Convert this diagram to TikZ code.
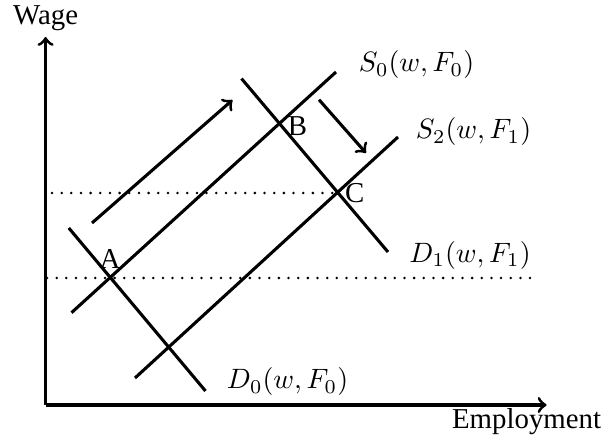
\documentclass[tikz,border=0pt]{standalone}
\usepackage{fontspec}
\setmainfont{Liberation Serif}
\tikzset{
	courbe/.style={line width=1.1pt},
	pointille/.style={line width=1pt, line cap=round, dash pattern=on 0pt off 3.45pt},
	fleche/.style={->, line width=1.1pt}
}
\begin{document}
\begin{tikzpicture}[x=0.1255cm, y=0.1255cm, every node/.style={font=\fontsize{10.3}{12.4}\selectfont}]
	\useasboundingbox (-4.56,-3.6) rectangle (56.04,40.5);
	%axes
	\coordinate (O) at (0,0);
	\coordinate (ytop) at (0,36.8);
	\coordinate (xend) at (50.1,0);
	\draw[fleche] (O) -- (ytop);
	\draw[fleche] (O) -- (xend);
	\node (wage) at (0,38.7) {Wage};
	\node (emploi) at (48.1,-1.7) {Employment};
	%fin
	%points d'equilibre
	\coordinate (A) at (6.44,12.7);
	\coordinate (B) at (23.34,28.2);
	\coordinate (C) at (29.34,21.2);
	%pointilles
	\draw[pointille] (0.64,21.2) -- (C);
	\draw[pointille] (0.14,12.7) -- (49.3,12.7);
	%offre
	\coordinate (s0a) at (2.59,9.23);
	\coordinate (s0b) at (29.04,33.3);
	\coordinate (s2a) at (8.94,2.7);
	\coordinate (s2b) at (35.24,26.8);
	\draw[courbe] (s0a) -- (s0b);
	\draw[courbe] (s2a) -- (s2b);
	%demande
	\coordinate (d0a) at (2.32,17.7);
	\coordinate (d0b) at (15.99,1.4);
	\coordinate (d1a) at (19.59,32.64);
	\coordinate (d1b) at (34.24,15.3);
	\draw[courbe] (d0a) -- (d0b);
	\draw[courbe] (d1a) -- (d1b);
	%fleches de deplacement
	\coordinate (hautA) at (4.64,18.2);
	\coordinate (hautB) at (18.69,30.5);
	\coordinate (basA) at (27.34,30.53);
	\coordinate (basB) at (32.04,25.2);
	\draw[fleche] (hautA) -- (hautB);
	\draw[fleche] (basA) -- (basB);
	%etiquettes
	\node[above] (lblA) at (A) {A};
	\node[right, inner sep=3pt, yshift=-1pt] (lblB) at (B) {B};
	\node[right, inner sep=2pt] (lblC) at (C) {C};
	\node (lblS0) at (37.09,34.0) {$S_0(w,F_0)$};
	\node (lblS2) at (42.79,27.3) {$S_2(w,F_1)$};
	\node (lblD1) at (42.44,15.0) {$D_1(w,F_1)$};
	\node (lblD0) at (24.19,2.3) {$D_0(w,F_0)$};
\end{tikzpicture}
\end{document}
